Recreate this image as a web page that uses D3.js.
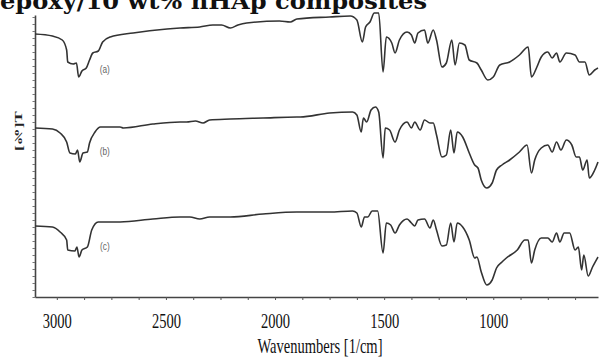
<!DOCTYPE html>
<html>
<head>
<meta charset="utf-8">
<script src="https://cdn.jsdelivr.net/npm/d3@7"></script>
<style>
  html, body { margin: 0; padding: 0; background: #fff; }
  svg { display: block; }
</style>
</head>
<body>
<svg id="chart" width="600" height="358"></svg>
<script>
// FTIR spectra (T in arbitrary units, stacked)
const waveA = [3100,3020,2975,2955,2950,2925,2910,2900,2885,2865,2850,2835,2810,2790,2755,2650,2495,2435,2345,2285,2245,2205,2170,2130,1980,1930,1900,1750,1655,1625,1600,1585,1565,1545,1525,1505,1490,1465,1450,1430,1395,1375,1360,1345,1315,1300,1275,1260,1235,1215,1190,1175,1155,1130,1110,1075,1055,1025,1000,970,925,880,840,825,800,780,750,730,710,695,665,625,605,580,560,535,520];
const transA = [131.5,130.5,128.5,123.5,117.5,116.5,117,110,113,114.5,118.5,122,123,127.5,130,132,134,134.5,135,136,136,134.5,136,137,138,137.5,139,140,140.5,138.5,127.5,135,137.5,142,142,112.5,130,127,122,128.5,132.5,131,127,132,133.5,127,133.5,128.5,115,117,128.5,116,127,126,118.5,117,113.5,108.5,110,116,117.5,121,125,110,115,120,122.5,119.5,122,117.5,122,121,117.5,117.5,111,113.5,114.5];

const waveB = [3100,3020,2985,2955,2940,2915,2905,2895,2880,2860,2850,2825,2800,2710,2695,2560,2435,2405,2365,2330,2300,2205,2055,1900,1885,1750,1645,1625,1605,1595,1580,1560,1540,1525,1505,1495,1475,1450,1430,1395,1375,1360,1335,1315,1290,1275,1260,1235,1215,1195,1180,1165,1140,1110,1085,1070,1055,1030,1005,985,960,925,880,845,825,810,780,750,730,710,690,665,640,620,605,590,570,560,535,520];
const transB = [84.5,84,82,77.5,72,71.5,73.5,67.5,72,72.5,77,82.5,85,85,84.5,86.5,87.5,87.5,88,87,88.5,89,89.5,90,90,92,92.5,91,82.5,89.5,87.5,93.5,95,92.5,69.5,84.5,83.5,77.5,83.5,87.5,84.5,87.5,83.5,88.5,87,87,81,70,71,83.5,72,82.5,80,72,66,64.5,58.5,54.5,57,63.5,66,68.5,72.5,76,62,68.5,74.5,76,72.5,77.5,73.5,78.5,76,70,70,63.5,68.5,59.5,63.5,67.5];

const waveC = [3100,3020,2985,2955,2950,2917,2908,2898,2885,2860,2840,2810,2710,2560,2435,2390,2345,2300,2205,2055,1900,1750,1645,1625,1605,1590,1575,1555,1530,1505,1490,1470,1450,1430,1395,1375,1360,1345,1315,1290,1275,1260,1235,1215,1195,1180,1165,1140,1110,1085,1075,1055,1030,1005,985,960,940,890,855,840,825,810,780,750,730,710,695,675,650,625,610,595,585,565,545,520];
const transC = [35.5,35,32.5,28.5,23.5,23,25,20,23.5,25,33.5,37.5,37.5,39,40,40,39,40,40,41.5,42.5,42.5,43,42,35,40,40,43,43,22,37,36,32,36,39,37,35.5,38.5,39,34.5,38.5,33.5,25.5,26,37,27.5,37,35,28.5,19.5,20,12.5,6,8.5,14.5,17.5,19.5,23.5,28.5,28.5,17,23.5,29.5,29.5,27.5,32,27.5,32,32,23.5,25,13.5,21,10.5,15,20];

const seriesLabels = ["(a)", "(b)", "(c)"];
const majorTicks = [3000, 2500, 2000, 1500, 1000];

const svg = d3.select("#chart");

// the source image is squeezed sideways, so text is narrowed the same way
const squeeze = 0.66;

const x = d3.scaleLinear().domain([3100, 520]).range([35, 598]);
const y = d3.scaleLinear().domain([0, 141]).range([297, 15]);

// title line, cut at the top edge like the source
svg.append("text")
  .attr("x", 0)
  .attr("y", 9)
  .attr("textLength", 427)
  .attr("lengthAdjust", "spacingAndGlyphs")
  .style("font-family", "'DejaVu Serif', serif")
  .style("font-weight", "bold")
  .style("font-size", "23px")
  .attr("fill", "#111")
  .text("epoxy/10 wt% nHAp composites");

// x axis
const xAxis = svg.append("g")
  .attr("transform", "translate(0,297)")
  .call(d3.axisBottom(x)
    .tickValues(d3.range(625, 3001, 125))
    .tickSize(3)
    .tickSizeOuter(0)
    .tickFormat(d => majorTicks.includes(d) ? d : ""));
xAxis.select(".domain").attr("stroke", "#444").attr("stroke-width", 1.6);
xAxis.selectAll(".tick line").attr("stroke", "#555").attr("stroke-width", 1);
xAxis.selectAll(".tick text")
  .attr("y", 31)
  .attr("dy", null)
  .attr("transform", `scale(${squeeze},1)`)
  .attr("fill", "#111")
  .style("font-family", "'Liberation Serif', serif")
  .style("font-size", "22px");

// y axis (no numbers, only small ticks)
const yAxis = svg.append("g")
  .attr("transform", "translate(35,0)")
  .call(d3.axisLeft(y)
    .tickValues(d3.range(0, 141, 3.5))
    .tickSize(2.5)
    .tickSizeOuter(0)
    .tickFormat(""));
yAxis.select(".domain").attr("stroke", "#444").attr("stroke-width", 1.6);
yAxis.selectAll(".tick line").attr("stroke", "#777").attr("stroke-width", 1);

// axis titles
svg.append("text")
  .attr("transform", `translate(320,353) scale(${squeeze},1)`)
  .attr("text-anchor", "middle")
  .attr("fill", "#111")
  .style("font-family", "'Liberation Serif', serif")
  .style("font-size", "22px")
  .text("Wavenumbers [1/cm]");

svg.append("text")
  .attr("transform", `translate(22,131) scale(-${squeeze},1) rotate(90)`)
  .attr("text-anchor", "middle")
  .attr("fill", "#222")
  .style("font-family", "'Liberation Serif', serif")
  .style("font-weight", "bold")
  .style("font-size", "17px")
  .text("T[%]");

// spectra
const spectra = [
  {wave: waveA, trans: transA},
  {wave: waveB, trans: transB},
  {wave: waveC, trans: transC}
];

const line = d3.line()
  .x(d => x(d[0]))
  .y(d => y(d[1]))
  .curve(d3.curveMonotoneX);

svg.selectAll("path.spectrum")
  .data(spectra)
  .enter().append("path")
    .attr("class", "spectrum")
    .attr("d", s => line(d3.zip(s.wave, s.trans)))
    .attr("fill", "none")
    .attr("stroke", "#333")
    .attr("stroke-width", 1.6)
    .attr("stroke-linejoin", "round");

// curve tags sit just right of the 2900 band
const tagWave = 2780;
const tagLevel = [112, 71, 23.5];
svg.selectAll("text.tag")
  .data(seriesLabels)
  .enter().append("text")
    .attr("class", "tag")
    .attr("transform", (d, i) => `translate(${x(tagWave)},${y(tagLevel[i])}) scale(0.75,1)`)
    .attr("text-anchor", "middle")
    .attr("fill", "#666")
    .style("font-family", "'Liberation Sans', sans-serif")
    .style("font-size", "11px")
    .text(d => d);
</script>
</body>
</html>
